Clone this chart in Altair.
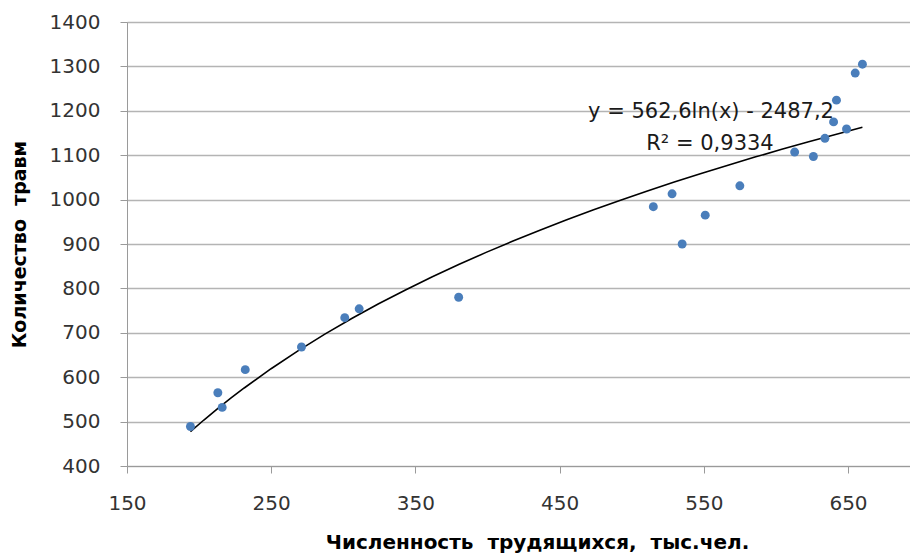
import altair as alt
import pandas as pd

# Data
workers = [194, 213, 216, 232, 271, 301, 311, 380, 515, 528, 535, 551, 575,
           613, 626, 634, 640, 642, 649, 655, 660]
injuries = [489, 565, 532, 617, 668, 734, 754, 780, 984, 1013, 900, 965, 1031,
            1107, 1097, 1138, 1175, 1224, 1159, 1285, 1305]
x_ticks = [150, 250, 350, 450, 550, 650]
y_ticks = [400, 500, 600, 700, 800, 900, 1000, 1100, 1200, 1300, 1400]
eq_label = "y = 562,6ln(x) - 2487,2"
r2_label = "R² = 0,9334"
x_title = "Численность\u00a0\u00a0трудящихся,\u00a0\u00a0тыс.чел."
y_title = "Количество\u00a0\u00a0травм"

df = pd.DataFrame({"x": workers, "y": injuries})

FONT = "DejaVu Sans"

x_enc = alt.X("x:Q", scale=alt.Scale(domain=[150, 693], nice=False, zero=False),
              axis=alt.Axis(values=x_ticks, grid=False, title=x_title, format="d",
                            titleFont=FONT, titleFontSize=20, titleFontWeight="bold",
                            titleColor="#000000", titlePadding=19, titleX=410,
                            labelFont=FONT, labelFontSize=20, labelColor="#333333",
                            labelPadding=20, tickSize=7, tickColor="#9a9a9a",
                            domainColor="#9a9a9a", labelFlush=False))
y_enc = alt.Y("y:Q", scale=alt.Scale(domain=[400, 1400], nice=False, zero=False),
              axis=alt.Axis(values=y_ticks, grid=True, gridColor="#b4b4b4", gridWidth=1.3,
                            title=y_title, format="d",
                            titleFont=FONT, titleFontSize=19, titleFontWeight="bold",
                            titleColor="#000000", titlePadding=20,
                            labelFont=FONT, labelFontSize=20, labelColor="#333333",
                            labelPadding=20, tickSize=7, tickColor="#9a9a9a",
                            domainColor="#9a9a9a"))

points = alt.Chart(df).mark_circle(size=80, opacity=1, color="#4a7ebb").encode(x=x_enc, y=y_enc)

trend = alt.Chart(df).transform_regression("x", "y", method="log").mark_line(
    color="#000000", strokeWidth=1.6).encode(x="x:Q", y="y:Q")

eq = alt.Chart(pd.DataFrame({"t": [eq_label]})).mark_text(
    font=FONT, fontSize=21, color="#1a1a1a", align="center", baseline="middle").encode(
    text="t:N", x=alt.value(584), y=alt.value(90))
r2 = alt.Chart(pd.DataFrame({"t": [r2_label]})).mark_text(
    font=FONT, fontSize=21, color="#1a1a1a", align="center", baseline="middle").encode(
    text="t:N", x=alt.value(583), y=alt.value(122))

chart = alt.layer(trend, points, eq, r2).properties(
    width=783, height=444,
    autosize=alt.AutoSizeParams(type="none"),
    padding={"left": 127, "top": 22, "right": 0, "bottom": 90},
).configure_view(stroke=None).configure(background="#ffffff")

chart.save("out.html", embed_options={"renderer": "svg", "actions": False})
